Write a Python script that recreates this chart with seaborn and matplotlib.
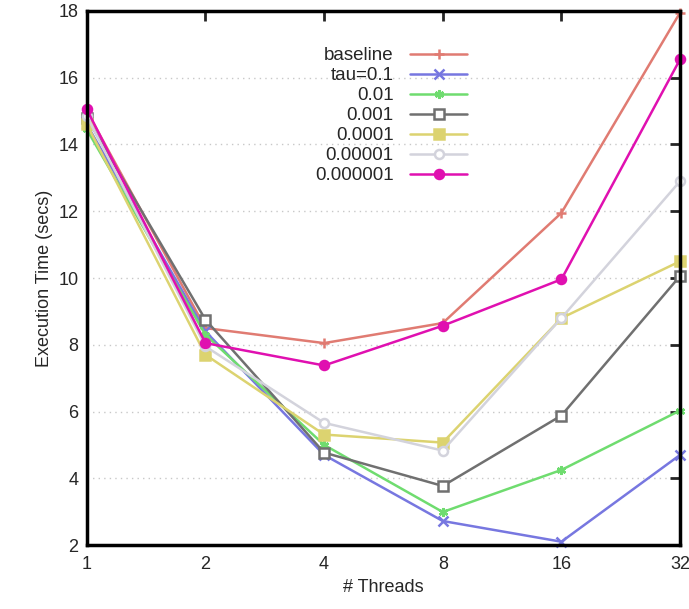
import matplotlib
matplotlib.use("Agg")
import matplotlib.pyplot as plt
import seaborn as sns
import pandas as pd

threads = [1, 2, 4, 8, 16, 32]
labels = ["baseline", "tau=0.1", "0.01", "0.001", "0.0001", "0.00001", "0.000001"]
baseline = [15.0, 8.5, 8.05, 8.65, 11.95, 17.95]
tau_01 = [14.6, 8.4, 4.7, 2.72, 2.1, 4.7]
tau_001 = [14.45, 8.3, 5.0, 2.99, 4.25, 6.03]
tau_0001 = [14.8, 8.75, 4.77, 3.77, 5.88, 10.06]
tau_00001 = [14.6, 7.7, 5.31, 5.07, 8.8, 10.5]
tau_000001 = [14.85, 7.95, 5.66, 4.83, 8.8, 12.9]
tau_0000001 = [15.05, 8.05, 7.38, 8.57, 9.96, 16.55]

series = [baseline, tau_01, tau_001, tau_0001, tau_00001, tau_000001, tau_0000001]
colors = ["#e07b72", "#7777e0", "#6fdc6f", "#707070", "#dcd370", "#d3d3dc", "#e010b0"]
markers = ["+", "x", (6, 2, 0), "s", "s", "o", "o"]
filled = [True, True, True, False, True, False, True]

sns.set_style("white")
plt.rcParams["font.family"] = ["Liberation Sans", "DejaVu Sans"]

fig = plt.figure(figsize=(6.89, 6.09), dpi=100)
ax = fig.add_axes([0.126, 0.105, 0.861, 0.877])

for lab, vals, c, m, f in zip(labels, series, colors, markers, filled):
    df = pd.DataFrame({"threads": threads, "time": vals})
    sns.lineplot(data=df, x="threads", y="time", ax=ax, color=c, lw=1.8,
                 marker=m, markersize=6.5, markeredgewidth=1.8,
                 markerfacecolor=(c if f else "white"), markeredgecolor=c,
                 label=lab, clip_on=False)

ax.set_xscale("log", base=2)
ax.set_xlim(1, 32)
ax.set_ylim(2, 18)
ax.set_xticks(threads)
ax.set_xticklabels([str(t) for t in threads])
ax.set_yticks(range(2, 19, 2))
ax.minorticks_off()
ax.tick_params(direction="in", length=7, width=2, labelsize=13, top=True, right=True,
               pad=6)
ax.tick_params(axis="x", pad=8)
for s in ax.spines.values():
    s.set_linewidth(2.5)
    s.set_color("black")
ax.grid(False)
ax.yaxis.grid(True, linestyle=(0, (1, 3)), color="#c8c8c8", linewidth=1)
ax.set_axisbelow(True)
ax.set_xlabel("# Threads", fontsize=13)
ax.set_ylabel("Execution Time (secs)", fontsize=13)

ax.legend(loc="upper right", bbox_to_anchor=(476 / 689, 1 - 38 / 609),
          bbox_transform=fig.transFigure, frameon=False, markerfirst=False,
          fontsize=13.5, handlelength=3.0, labelspacing=0.15, borderpad=0,
          handletextpad=0.9)

fig.savefig("out.png", dpi=100)
